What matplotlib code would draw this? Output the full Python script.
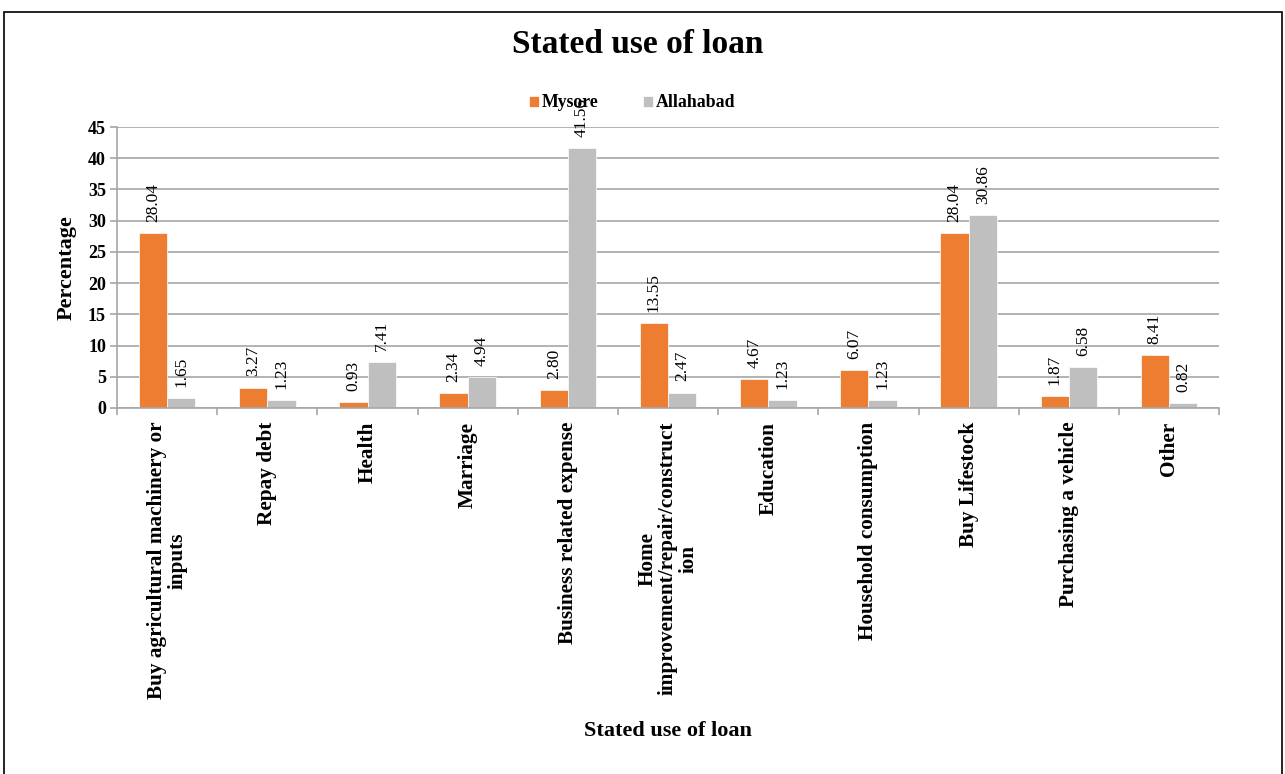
import numpy as np
import matplotlib.pyplot as plt
from matplotlib.patches import Rectangle

# Data
categories = ["Buy agricultural machinery or\ninputs", "Repay debt", "Health", "Marriage",
              "Business related expense", "Home\nimprovement/repair/construct\nion",
              "Education", "Household consumption", "Buy Lifestock",
              "Purchasing a vehicle", "Other"]
mysore = [28.04, 3.27, 0.93, 2.34, 2.80, 13.55, 4.67, 6.07, 28.04, 1.87, 8.41]
allahabad = [1.65, 1.23, 7.41, 4.94, 41.56, 2.47, 1.23, 1.23, 30.86, 6.58, 0.82]
yticks = np.arange(0, 50, 5)

plt.rcParams['font.family'] = ['Liberation Serif', 'DejaVu Serif']

fig = plt.figure(figsize=(12.85, 7.74), dpi=100)
ax = fig.add_axes([0.0911, 0.4729, 0.8576, 0.3630])

# outer frame
fig.patches.append(Rectangle((0.0035, -0.1), 0.9942, 1.0849, transform=fig.transFigure,
                             fill=False, edgecolor='black', linewidth=1.2))

x = np.arange(len(categories))
w = 0.282
b1 = ax.bar(x - w/2, mysore, w, color='#ED7D31', edgecolor='white', linewidth=0.5, label='Mysore')
b2 = ax.bar(x + w/2, allahabad, w, color='#BFBFBF', edgecolor='white', linewidth=0.5, label='Allahabad')

for bars in (b1, b2):
    for r in bars:
        v = r.get_height()
        ax.annotate("%.2f" % v, (r.get_x() + r.get_width()/2, v), xytext=(0, 8),
                    textcoords='offset points', rotation=90, ha='center', va='bottom',
                    fontsize=12.5)

ax.set_xlim(-0.5, len(categories) - 0.5)
ax.set_ylim(0, 45)
ax.set_yticks(yticks)
ax.yaxis.grid(True, color='#a6a6a6', linewidth=1.2)
ax.set_axisbelow(True)

ax.set_xticks(x)
ax.set_xticklabels(categories, rotation=90, fontsize=15.3, fontweight='bold', va='top',
                   ha='center', multialignment='center', linespacing=1.05)
ax.tick_params(axis='x', length=0, pad=10)
ax.set_xticks(np.arange(-0.5, len(categories)), minor=True)
ax.tick_params(axis='x', which='minor', length=5, color='#a6a6a6', width=1.2)
ax.tick_params(axis='y', length=5, color='#a6a6a6', width=1.2, labelsize=13, pad=3)
for t in ax.get_yticklabels():
    t.set_fontweight('bold')

for s in ['top', 'right']:
    ax.spines[s].set_visible(False)
ax.spines['left'].set_color('#a6a6a6')
ax.spines['bottom'].set_color('#a6a6a6')
ax.spines['left'].set_linewidth(1.2)
ax.spines['bottom'].set_linewidth(1.2)

fig.text(0.4965, 0.942, "Stated use of loan", ha='center', va='center', fontsize=24,
         fontweight='bold')
fig.text(0.052, 0.654, "Percentage", ha='center', va='center', rotation=90, fontsize=16,
         fontweight='bold')
fig.text(0.520, 0.055, "Stated use of loan", ha='center', va='center', fontsize=16,
         fontweight='bold')

fig.legend(loc='center', bbox_to_anchor=(0.492, 0.867), ncol=2, frameon=False,
           prop={'weight': 'bold', 'size': 12.8}, handlelength=0.56, handleheight=0.56,
           handletextpad=0.17, columnspacing=2.5)

fig.savefig("out.png", dpi=100)
